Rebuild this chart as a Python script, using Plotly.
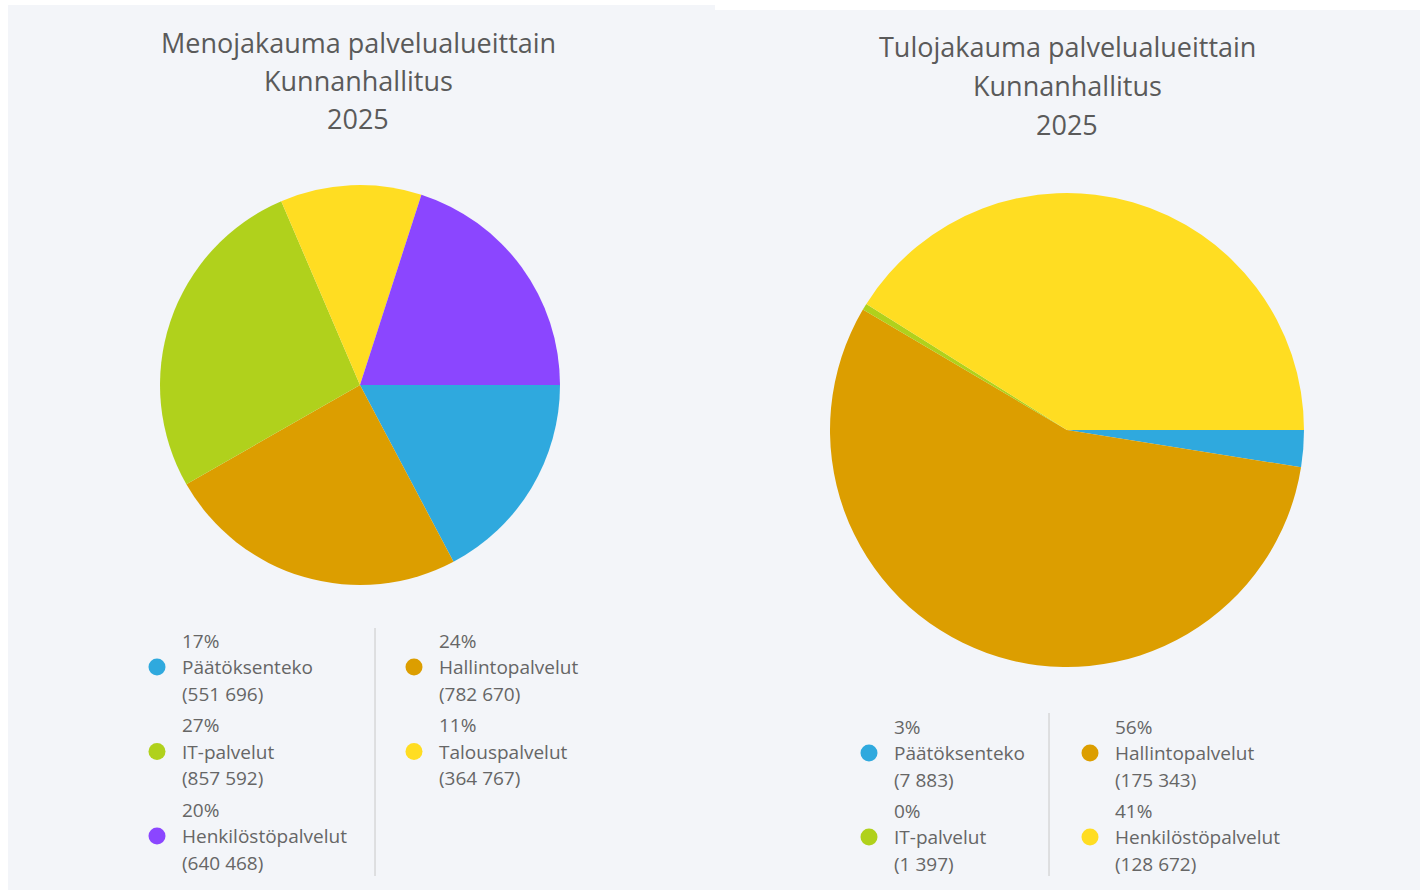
import plotly.graph_objects as go

W, H = 1425, 893

# ---- data ----
left_categories = ["Päätöksenteko", "Hallintopalvelut", "IT-palvelut", "Talouspalvelut", "Henkilöstöpalvelut"]
left_values = [551696, 782670, 857592, 364767, 640468]
left_colors = ["#2fa9de", "#dc9e00", "#b0d11c", "#ffdd22", "#8b46ff"]

right_categories = ["Päätöksenteko", "Hallintopalvelut", "IT-palvelut", "Henkilöstöpalvelut"]
right_values = [7883, 175343, 1397, 128672]
right_colors = ["#2fa9de", "#dc9e00", "#b0d11c", "#ffdd22"]

left_title = ["Menojakauma palvelualueittain", "Kunnanhallitus", "2025"]
right_title = ["Tulojakauma palvelualueittain", "Kunnanhallitus", "2025"]

FONT = "Open Sans"
BG = "#f3f5f9"
TXT = "#666666"


def px(x):
    return x / W


def py(y):
    return 1 - y / H


fig = go.Figure()


def add_pie(cats, vals, cols, cx, cy, r):
    fig.add_trace(go.Pie(
        labels=cats, values=vals, sort=False, direction="clockwise", rotation=90,
        marker=dict(colors=cols, line=dict(width=0)),
        textinfo="none", hoverinfo="label+value+percent", showlegend=False,
        domain=dict(x=[px(cx - r), px(cx + r)], y=[py(cy + r), py(cy - r)]),
    ))


add_pie(left_categories, left_values, left_colors, 360, 385, 200)
add_pie(right_categories, right_values, right_colors, 1067, 430, 237)

shapes = [
    dict(type="rect", xref="paper", yref="paper", x0=px(8), x1=px(715), y0=py(890), y1=py(5),
         fillcolor=BG, line=dict(width=0), layer="below"),
    dict(type="rect", xref="paper", yref="paper", x0=px(715), x1=px(1420), y0=py(890), y1=py(10),
         fillcolor=BG, line=dict(width=0), layer="below"),
]
annotations = []


def add_title(lines, cx, y0, dy):
    for i, t in enumerate(lines):
        annotations.append(dict(text=t, x=px(cx), y=py(y0 + i * dy), xref="paper", yref="paper",
                                xanchor="center", yanchor="middle", showarrow=False,
                                font=dict(family=FONT, size=27, color="#5a5a5a")))


add_title(left_title, 358, 42, 38.5)
add_title(right_title, 1067, 47, 38.5)


def add_legend(cats, vals, cols, col_x, row_y0, row_dy, divider_x, div_y0, div_y1):
    total = sum(vals)
    for i, (c, v, colr) in enumerate(zip(cats, vals, cols)):
        col = i % 2
        row = i // 2
        mx = col_x[col]
        yc = row_y0 + row * row_dy
        shapes.append(dict(type="circle", xref="paper", yref="paper",
                           x0=px(mx - 8.5), x1=px(mx + 8.5), y0=py(yc + 8.5), y1=py(yc - 8.5),
                           fillcolor=colr, line=dict(width=0)))
        pct = round(v / total * 100)
        lines = [f"{pct}%", c, "(" + f"{v:,}".replace(",", " ") + ")"]
        for j, t in enumerate(lines):
            annotations.append(dict(text=t, x=px(mx + 23), y=py(yc + (j - 1) * 26.5),
                                    xref="paper", yref="paper", xanchor="left", yanchor="middle",
                                    showarrow=False, font=dict(family=FONT, size=19, color=TXT)))
    shapes.append(dict(type="line", xref="paper", yref="paper", x0=px(divider_x), x1=px(divider_x),
                       y0=py(div_y1), y1=py(div_y0), line=dict(color="#c8c8c8", width=1)))


add_legend(left_categories, left_values, left_colors, [157, 414], 667, 84.5, 375, 628, 876)
add_legend(right_categories, right_values, right_colors, [869, 1090], 753, 84, 1049, 713, 876)

fig.update_layout(
    width=W, height=H, margin=dict(l=0, r=0, t=0, b=0),
    paper_bgcolor="white", plot_bgcolor="white",
    shapes=shapes, annotations=annotations,
    font=dict(family=FONT),
)

fig.write_html("out.html", config={"displayModeBar": False},
               post_script="document.body.style.margin='0';document.body.style.overflow='hidden';")
